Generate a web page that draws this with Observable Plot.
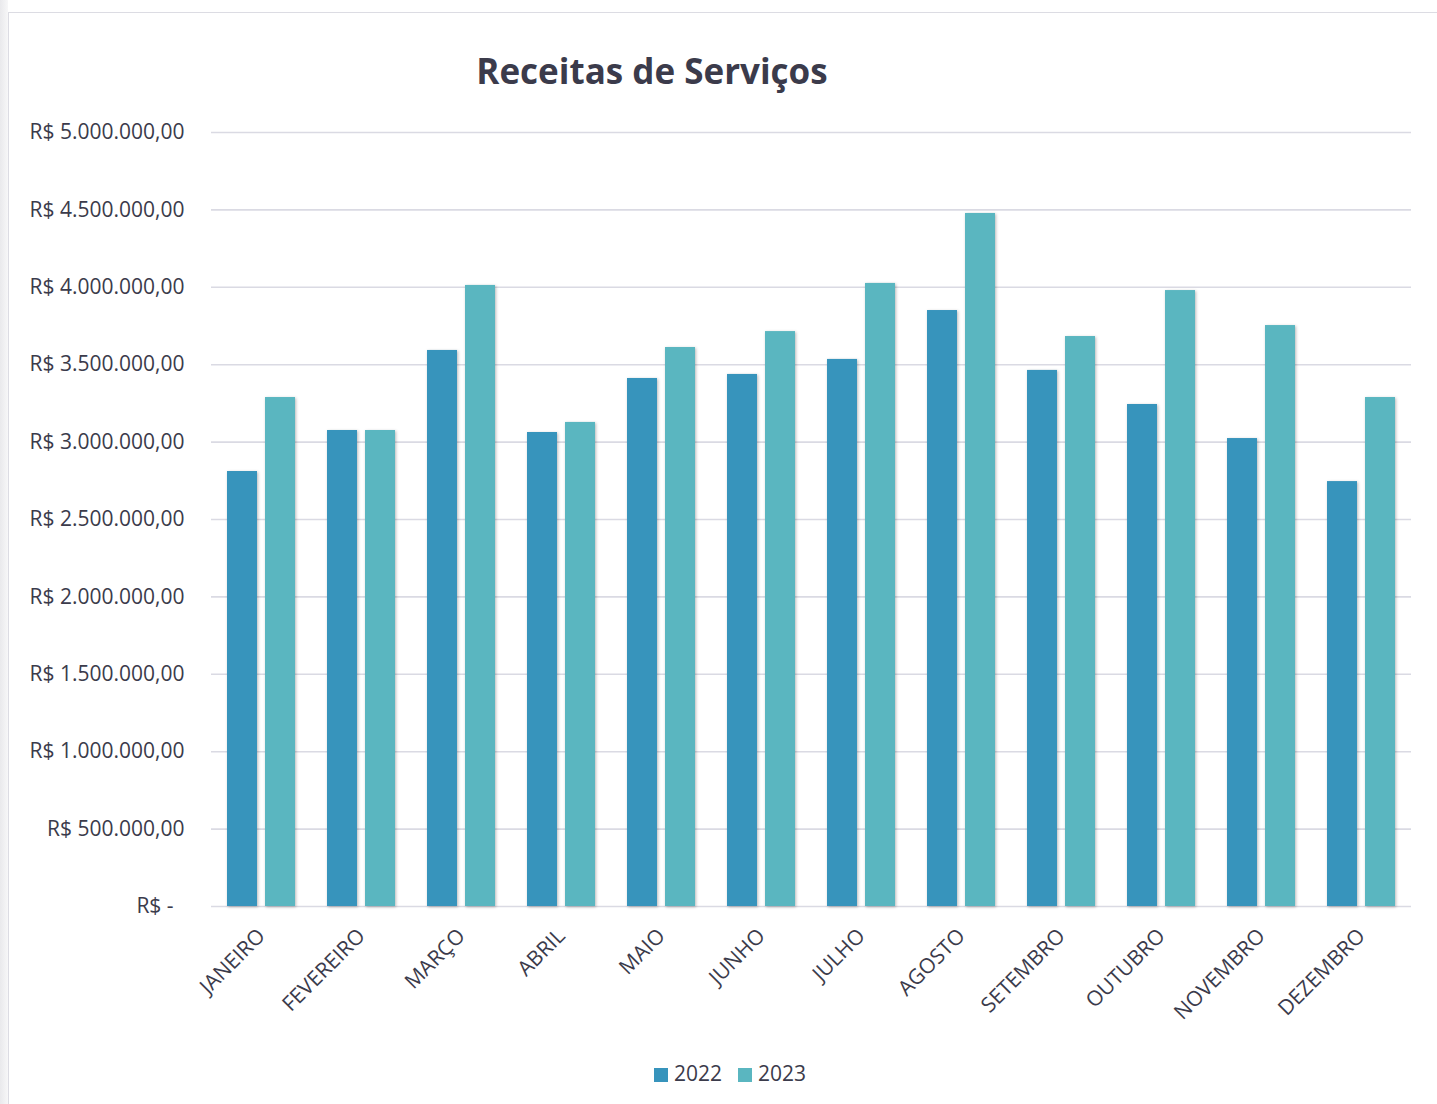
<!DOCTYPE html>
<html>
<head>
<meta charset="utf-8">
<script src="https://cdn.jsdelivr.net/npm/d3@7"></script>
<script src="https://cdn.jsdelivr.net/npm/@observablehq/plot@0.6"></script>
<style>
  html, body { margin: 0; padding: 0; background: #fff; }
  body { width: 1437px; height: 1104px; position: relative; overflow: hidden; font-family: "Open Sans", sans-serif; color: #3b3b4b; }
  #strip { position: absolute; left: 0; top: 0; width: 8px; height: 1104px; background: linear-gradient(to right, #e9e9ec, #f7f7f8); }
  #frame { position: absolute; left: 8px; top: 12px; width: 1440px; height: 1100px; border-left: 1px solid #dcdce3; border-top: 1px solid #dcdce3; box-sizing: border-box; }
  #title { position: absolute; left: 0; width: 1304px; top: 46px; text-align: center; font-weight: 700; font-size: 35px; line-height: 50px; color: #3b3b4b; }
  #chart { position: absolute; left: 0; top: 0; }
  #legend { position: absolute; left: 0; width: 1460px; top: 1059px; text-align: center; font-size: 21px; line-height: 28px; color: #3b3b4b; }
  #legend span.sw { display: inline-block; width: 14px; height: 14px; vertical-align: -1px; margin-right: 6px; }
  #legend span.item { margin: 0 8px; }
</style>
</head>
<body>
<div id="strip"></div>
<div id="frame"></div>
<div id="chart"></div>
<div id="title">Receitas de Serviços</div>
<div id="legend"></div>
<script>
const months = ["JANEIRO","FEVEREIRO","MARÇO","ABRIL","MAIO","JUNHO","JULHO","AGOSTO","SETEMBRO","OUTUBRO","NOVEMBRO","DEZEMBRO"];
const years = ["2022","2023"];
const values2022 = [2810000, 3075000, 3592000, 3062000, 3411000, 3437000, 3534000, 3850000, 3463000, 3243000, 3023000, 2745000];
const values2023 = [3288000, 3075000, 4012000, 3127000, 3611000, 3714000, 4025000, 4477000, 3682000, 3979000, 3753000, 3288000];
const colors = ["#3794bc", "#5ab6c0"];
const yTicks = [0, 500000, 1000000, 1500000, 2000000, 2500000, 3000000, 3500000, 4000000, 4500000, 5000000];
const yTickLabels = ["R$ -\u00a0\u00a0", "R$ 500.000,00", "R$ 1.000.000,00", "R$ 1.500.000,00", "R$ 2.000.000,00", "R$ 2.500.000,00", "R$ 3.000.000,00", "R$ 3.500.000,00", "R$ 4.000.000,00", "R$ 4.500.000,00", "R$ 5.000.000,00"];

const data = [];
months.forEach((m, i) => {
  data.push({month: m, year: "2022", value: values2022[i]});
  data.push({month: m, year: "2023", value: values2023[i]});
});

const chart = Plot.plot({
  width: 1437,
  height: 1040,
  marginLeft: 206,
  marginRight: 22,
  marginTop: 132,
  marginBottom: 134,
  style: {fontFamily: "'Open Sans', sans-serif", color: "#3b3b4b", background: "transparent", overflow: "visible"},
  fx: {domain: months, padding: 0, label: null},
  x: {domain: years, paddingInner: 0.21, paddingOuter: 0.418, axis: null},
  y: {domain: [0, 5000000], label: null},
  color: {domain: years, range: colors},
  marks: [
    Plot.gridY(yTicks, {stroke: "#dadae3", strokeOpacity: 1, strokeWidth: 1.6}),
    Plot.barY(data, {fx: "month", x: "year", y: "value", fill: "year"}),
    Plot.axisY(yTicks, {tickFormat: (d) => yTickLabels[yTicks.indexOf(d)], tickSize: 0, tickPadding: 27, fontSize: 21, label: null}),
    Plot.axisFx({anchor: "bottom", tickRotate: -45, tickSize: 0, tickPadding: 26, fontSize: 21, label: null})
  ]
});
document.getElementById("chart").appendChild(chart);
d3.select(chart).selectAll("g[aria-label='bar']").style("filter", "drop-shadow(1.5px 1.5px 1.5px rgba(0,0,0,0.28))");

const legend = document.getElementById("legend");
years.forEach((y, i) => {
  const item = document.createElement("span");
  item.className = "item";
  item.innerHTML = `<span class="sw" style="background:${colors[i]}"></span>${y}`;
  legend.appendChild(item);
});
</script>
</body>
</html>
